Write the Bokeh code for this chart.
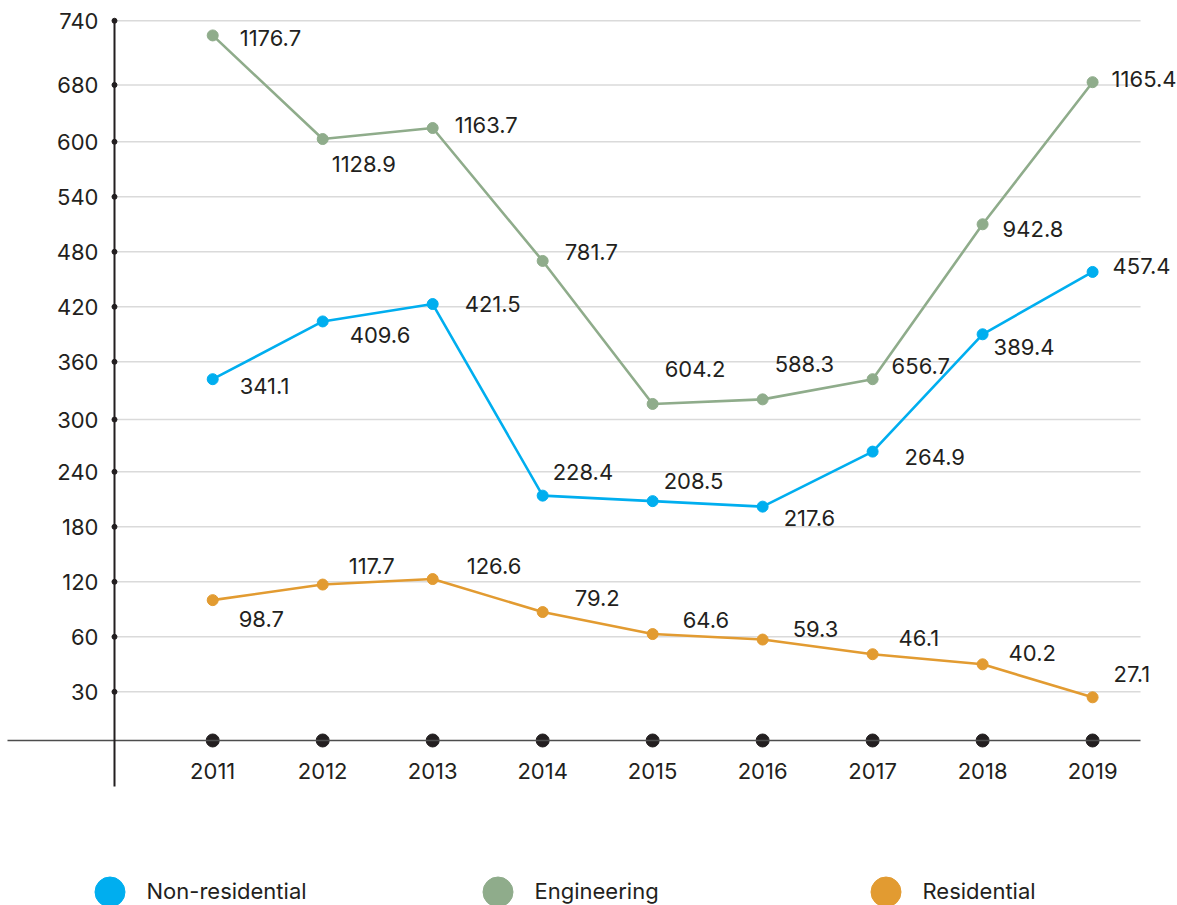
from bokeh.plotting import figure
from bokeh.models import (ColumnDataSource, LinearAxis, FixedTicker, Range1d,
                          Legend, LegendItem)
from bokeh.embed import file_html
from bokeh.resources import INLINE
from bokeh.core.properties import value

# ---------------- data ----------------
years = [2011, 2012, 2013, 2014, 2015, 2016, 2017, 2018, 2019]
series_names = ["Non-residential", "Engineering", "Residential"]

# printed values
nonres_labels = ["341.1", "409.6", "421.5", "228.4", "208.5", "217.6", "264.9", "389.4", "457.4"]
eng_labels = ["1176.7", "1128.9", "1163.7", "781.7", "604.2", "588.3", "656.7", "942.8", "1165.4"]
res_labels = ["98.7", "117.7", "126.6", "79.2", "64.6", "59.3", "46.1", "40.2", "27.1"]

# plotted heights as drawn against the value axis
nonres_pos = [341, 404, 423, 214, 208, 202, 262, 390, 458]
eng_pos = [716, 603, 615, 470, 314, 319, 341, 510, 665]
res_pos = [100, 117, 123, 87, 63, 57, 41, 30, -6]

# value axis: tick positions and the labels printed at them
y_tick_pos = [0, 60, 120, 180, 240, 297, 360, 420, 480, 540, 600, 662, 732]
y_tick_labels = ["30", "60", "120", "180", "240", "300", "360", "420",
                 "480", "540", "600", "680", "740"]

# ---------------- styling ----------------
FONT = "Inter"
FSIZE = "22px"
TXT = "#231f20"
colors = ["#00aeef", "#8fac8b", "#e29b31"]

# label placement offsets (screen px) relative to each point
nonres_off = [(27, 7), (27, 14), (32, 0), (10, -24), (11, -20), (21, 11), (32, 5), (11, 13), (20, -6)]
eng_off = [(27, 3), (9, 25), (22, -3), (22, -9), (12, -35), (12, -35), (19, -13), (20, 5), (19, -3)]
res_off = [(26, 19), (26, -19), (34, -13), (32, -14), (30, -14), (30, -11), (26, -16), (26, -11), (21, -23)]

X_START, X_END = 2009.0706, 2019.772
Y_START, Y_END = -233.1, 754.1
YAXIS_X = 2010.107
XAXIS_Y = -53.1
AXIS_LEFT_X = 2009.134
GRID_END_X = 2019.436

p = figure(width=1177, height=905,
           x_range=Range1d(X_START, X_END), y_range=Range1d(Y_START, Y_END),
           x_axis_type=None, y_axis_type=None,
           toolbar_location=None, output_backend="svg",
           min_border=0, outline_line_color=None)
p.grid.visible = False

# grid lines along the value ticks
grid_src = ColumnDataSource(dict(y=y_tick_pos,
                                 x0=[YAXIS_X] * len(y_tick_pos),
                                 x1=[GRID_END_X] * len(y_tick_pos)))
p.segment(x0="x0", y0="y", x1="x1", y1="y", source=grid_src,
          line_color="#dadada", line_width=1.5)

# y axis
yaxis = LinearAxis(fixed_location=YAXIS_X,
                   ticker=FixedTicker(ticks=y_tick_pos),
                   major_label_overrides={k: v for k, v in zip(y_tick_pos, y_tick_labels)},
                   bounds=(-103, 732),
                   axis_line_color=TXT, axis_line_width=2,
                   major_tick_line_color=None, minor_tick_line_color=None,
                   major_tick_in=0, major_tick_out=0,
                   major_label_standoff=16,
                   major_label_text_font=FONT,
                   major_label_text_font_size=FSIZE,
                   major_label_text_color=TXT)
p.add_layout(yaxis, "left")

# x axis
xaxis = LinearAxis(fixed_location=XAXIS_Y,
                   ticker=FixedTicker(ticks=years),
                   major_label_overrides={y: str(y) for y in years},
                   bounds=(AXIS_LEFT_X, GRID_END_X),
                   axis_line_color="#4d4d4d", axis_line_width=1.5,
                   major_tick_line_color=None, minor_tick_line_color=None,
                   major_tick_in=0, major_tick_out=0,
                   major_label_standoff=23,
                   major_label_text_font=FONT,
                   major_label_text_font_size=FSIZE,
                   major_label_text_color=TXT)
p.add_layout(xaxis, "below")

# axis dots
p.scatter(x=[YAXIS_X] * len(y_tick_pos), y=y_tick_pos, size=5, color=TXT)
p.scatter(x=years, y=[XAXIS_Y] * len(years), size=13, color=TXT)

legend_items = []
for name, pos, labels, off, col in zip(series_names,
                                       [nonres_pos, eng_pos, res_pos],
                                       [nonres_labels, eng_labels, res_labels],
                                       [nonres_off, eng_off, res_off],
                                       colors):
    src = ColumnDataSource(dict(x=years, y=pos, label=labels,
                                dx=[o[0] for o in off], dy=[o[1] for o in off]))
    p.line("x", "y", source=src, line_color=col, line_width=2.6)
    r = p.scatter("x", "y", source=src, size=11, color=col)
    p.text("x", "y", text="label", source=src, x_offset="dx", y_offset="dy",
           text_font=value(FONT), text_font_size=FSIZE, text_color=TXT,
           text_align="left", text_baseline="middle")
    legend_items.append(LegendItem(label=name, renderers=[r]))

legend = Legend(items=legend_items, orientation="horizontal",
                location=(71.5, -23.5),
                glyph_width=75, glyph_height=75,
                label_standoff=0, label_width=313, spacing=0,
                padding=0, margin=0,
                border_line_color=None, background_fill_alpha=0,
                label_text_font=FONT, label_text_font_size=FSIZE,
                label_text_color=TXT)
p.add_layout(legend)

open("out.html", "w").write(file_html(p, INLINE))
